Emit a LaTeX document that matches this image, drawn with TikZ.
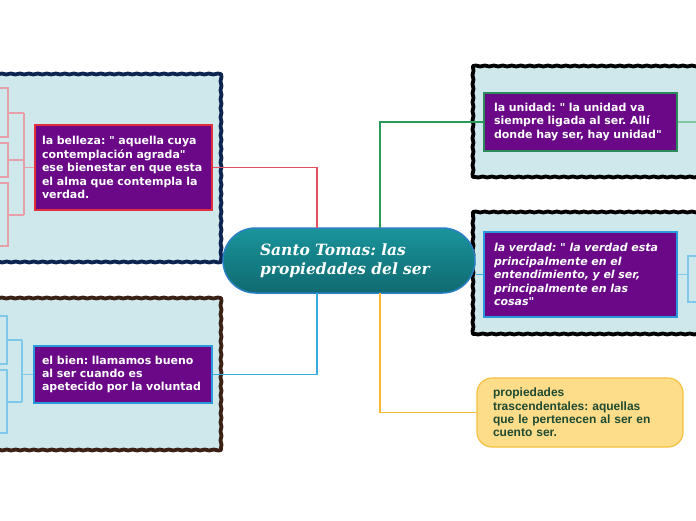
\documentclass[tikz,border=0pt]{standalone}
\usepackage{fontspec}
\newfontfamily\vbf{DejaVu Sans}
\newfontfamily\arf{Liberation Sans}
\newfontfamily\gsf{DejaVu Serif}
\usetikzlibrary{decorations.pathmorphing}
\definecolor{panelfill}{HTML}{CFE8EC}
\definecolor{navyb}{HTML}{0D2450}
\definecolor{brownb}{HTML}{3A2015}
\definecolor{purp}{HTML}{6A0888}
\definecolor{redb}{HTML}{E0303C}
\definecolor{blueb}{HTML}{2A98DC}
\definecolor{greenb}{HTML}{2A8A5A}
\definecolor{cred}{HTML}{E05060}
\definecolor{cblue}{HTML}{38ACE0}
\definecolor{cgreen}{HTML}{2A9A5A}
\definecolor{cyellow}{HTML}{F5B830}
\definecolor{lpink}{HTML}{E8A0A8}
\definecolor{lblue}{HTML}{80C8EA}
\definecolor{lgreen}{HTML}{80C8A0}
\definecolor{propfill}{HTML}{FDDC8A}
\definecolor{propdraw}{HTML}{F5C040}
\definecolor{proptext}{HTML}{1D4A30}
\definecolor{ctop}{HTML}{1A949C}
\definecolor{cbot}{HTML}{0F6A70}
\definecolor{cdraw}{HTML}{2A80C4}
\frenchspacing
\newcommand{\wavypanel}[5]{% x1,y1,x2,y2,color
  \fill[panelfill] (#1,#2) rectangle (#3,#4);
  \draw[wavy, draw=#5] (#1,#2) -- (#3,#2);
  \draw[wavy, draw=#5] (#3,#2) -- (#3,#4);
  \draw[wavy, draw=#5] (#3,#4) -- (#1,#4);
  \draw[wavy, draw=#5] (#1,#4) -- (#1,#2);
}
\begin{document}
\begin{tikzpicture}[x=1pt,y=-1pt,
  wavy/.style={line width=3.8pt, line cap=round, decorate, decoration={snake, amplitude=0.5pt, segment length=9pt}},
  pbox/.style={rectangle, fill=purp, line width=2pt, text=white, font=\vbf\bfseries\fontsize{11}{13.4}\selectfont, align=left, inner xsep=9pt, inner ysep=0pt},
  conn/.style={line width=1.4pt},
  brk/.style={line width=1.2pt}
]
\useasboundingbox (0,0) rectangle (696,520);
\fill[white] (0,0) rectangle (696,520);

% panels
\wavypanel{-10}{74}{221}{262}{navyb}
\wavypanel{-10}{298}{221}{450}{brownb}
\wavypanel{473}{66}{706}{177}{black}
\wavypanel{473}{212}{706}{334}{black}

% nodes
\node[rectangle, rounded corners=32.5pt, minimum width=252pt, minimum height=65pt, text width=178pt, inner xsep=37pt, inner ysep=0pt,
      top color=ctop, bottom color=cbot, draw=cdraw, line width=1.5pt, text=white, align=left,
      font=\gsf\bfseries\itshape\fontsize{15.5}{19}\selectfont] (c) at (349,260.5) {Santo Tomas: las\\ propiedades del ser};

\node[pbox, draw=redb, minimum width=177pt, minimum height=85pt, text width=163pt, inner xsep=7pt] (bel) at (123.5,167.5)
  {la belleza: " aquella cuya\\ contemplación agrada"\\ ese bienestar en que esta\\ el alma que contempla la\\ verdad.};
\node[pbox, draw=blueb, minimum width=178pt, minimum height=57pt, text width=162pt, inner xsep=8pt] (bien) at (123,374.5)
  {el bien: llamamos bueno\\ al ser cuando es\\ apetecido por la voluntad};
\node[pbox, draw=greenb, minimum width=193pt, minimum height=58pt, text width=173pt, inner xsep=10pt] (uni) at (580.5,122)
  {la unidad: " la unidad va\\ siempre ligada al ser. Allí\\ donde hay ser, hay unidad"};
\node[pbox, draw=blueb, minimum width=193pt, minimum height=85pt, text width=173pt, inner xsep=10pt, font=\vbf\bfseries\itshape\fontsize{11}{13.4}\selectfont] (ver) at (580.5,274.5)
  {la verdad: " la verdad esta\\ principalmente en el\\ entendimiento, y el ser,\\ principalmente en las\\ cosas"};
\node[rectangle, rounded corners=15pt, fill=propfill, draw=propdraw, line width=1.2pt, minimum width=206pt, minimum height=69pt,
      text width=174pt, inner xsep=16pt, inner ysep=0pt, align=left, text=proptext,
      font=\arf\bfseries\fontsize{12}{13.4}\selectfont] (prop) at (580,412.5)
  {propiedades\\ trascendentales: aquellas\\ que le pertenecen al ser en\\ cuento ser.};

% junctions on central node
\coordinate (jr) at (317,228);
\coordinate (jb) at (317,293);
\coordinate (jg) at (380,228);
\coordinate (jy) at (380,293);

\draw[conn, cred] (bel.east) -| (jr);
\draw[conn, cblue] (bien.east) -| (jb);
\draw[conn, cgreen] (uni.west) -| (jg);
\draw[conn, cyellow] (prop.west) -| (jy);
\draw[conn, cblue] (ver.west) -- (ver.west -| c.east);

% left brackets (belleza)
\coordinate (b0) at (24,167.5);
\draw[brk, lpink] (bel.west) -- (b0);
\draw[brk, lpink] (24,113) -- (24,215);
\draw[brk, lpink] (24,113) -- (8,113) (24,160) -- (8,160) (24,215) -- (8,215);
\draw[brk, lpink] (0,88) -- (8,88) -- (8,137) -- (0,137);
\draw[brk, lpink] (0,143) -- (8,143) -- (8,177) -- (0,177);
\draw[brk, lpink] (0,183) -- (8,183) -- (8,246) -- (0,246);

% left brackets (bien)
\coordinate (w0) at (22,374.5);
\draw[brk, lblue] (bien.west) -- (w0);
\draw[brk, lblue] (22,340) -- (22,402);
\draw[brk, lblue] (22,340) -- (7,340) (22,402) -- (7,402);
\draw[brk, lblue] (0,316) -- (7,316) -- (7,364) -- (0,364);
\draw[brk, lblue] (0,370) -- (7,370) -- (7,433) -- (0,433);

% right side
\coordinate (u0) at (696,122);
\draw[brk, lgreen] (uni.east) -- (u0);
\coordinate (v0) at (688,274.5);
\draw[brk, lblue] (ver.east) -- (v0);
\draw[brk, lblue] (696,256) -- (688,256) -- (688,302) -- (696,302);
\end{tikzpicture}
\end{document}
